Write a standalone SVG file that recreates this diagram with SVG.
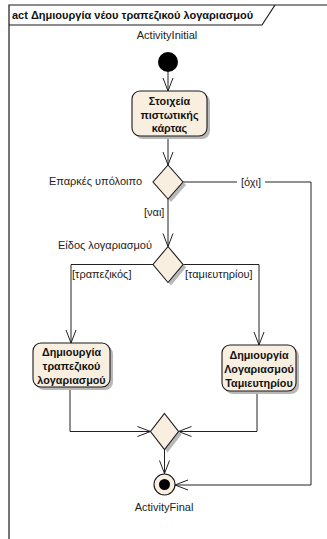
<svg xmlns="http://www.w3.org/2000/svg" width="327" height="539" viewBox="0 0 327 539">
  <style>
    .frame { fill: none; stroke: #1a1a1a; stroke-width: 1.2; }
    .node { fill: #F8EFE0; stroke: #1a1a1a; stroke-width: 1.1; }
    .shadow { fill: #b8b8b8; }
    .edge { fill: none; stroke: #222; stroke-width: 1; }
    .lbl { font-family: "Liberation Sans", Arial, sans-serif; font-size: 11px; fill: #222; }
    .act { font-family: "Liberation Sans", Arial, sans-serif; font-size: 10.8px; font-weight: bold; fill: #111; text-anchor: middle; }
    .title { font-family: "Liberation Sans", Arial, sans-serif; font-size: 11px; font-weight: bold; fill: #111; }
  </style>
  <defs>
    <marker id="open" markerUnits="userSpaceOnUse" markerWidth="16" markerHeight="14" viewBox="-14 -7 16 14" refX="0" refY="0" orient="auto">
      <path d="M-13,-5 L0,0 L-13,5" fill="none" stroke="#222" stroke-width="1"/>
    </marker>
  </defs>

  <rect width="327" height="539" fill="#ffffff"/>

  <!-- activity frame and header tab -->
  <g id="frame">
    <path class="frame" d="M9,545 L9,5 L335,5"/>
    <path class="frame" d="M9,25 L262,25 L275,5"/>
    <text class="title" x="12" y="19">act Δημιουργία νέου τραπεζικού λογαριασμού</text>
  </g>

  <!-- connectors -->
  <g id="edges">
    <path class="edge" d="M168,72 L168,91" marker-end="url(#open)"/>
    <path class="edge" d="M168,136 L168,165" marker-end="url(#open)"/>
    <path class="edge" d="M168,199 L168,246.5" marker-end="url(#open)"/>
    <path class="edge" d="M183,182 L311,182 L311,485 L175,485" marker-end="url(#open)"/>
    <path class="edge" d="M153,264.5 L71,264.5 L71,343" marker-end="url(#open)"/>
    <path class="edge" d="M183,264.5 L259,264.5 L259,345" marker-end="url(#open)"/>
    <path class="edge" d="M70,387 L70,431.5 L150.5,431.5" marker-end="url(#open)"/>
    <path class="edge" d="M257,391 L257,431.5 L178.5,431.5" marker-end="url(#open)"/>
    <path class="edge" d="M164.5,449.5 L164.5,473.5" marker-end="url(#open)"/>
    <rect x="237" y="175" width="28" height="13" fill="#ffffff"/>
    <text class="lbl" x="251" y="186" text-anchor="middle">[όχι]</text>
    <text class="lbl" x="144" y="216">[ναι]</text>
    <text class="lbl" x="72" y="278">[τραπεζικός]</text>
    <text class="lbl" x="185" y="278">[ταμιευτηρίου]</text>
  </g>

  <g id="initial">
    <circle cx="168" cy="62" r="10" fill="#000"/>
    <text class="lbl" x="167" y="39" text-anchor="middle">ActivityInitial</text>
  </g>

  <g id="card-details">
    <rect class="shadow" x="135" y="94" width="75" height="45" rx="8"/>
    <rect class="node" x="132" y="91" width="75" height="45" rx="8"/>
    <text class="act" x="169.5" y="105">Στοιχεία</text>
    <text class="act" x="169.5" y="118.5">πιστωτικής</text>
    <text class="act" x="169.5" y="132">κάρτας</text>
  </g>

  <g id="balance-decision">
    <path class="shadow" d="M171,168 L186,185 L171,202 L156,185 Z"/>
    <path class="node" d="M168,165 L183,182 L168,199 L153,182 Z"/>
    <text class="lbl" x="142" y="185" text-anchor="end">Επαρκές υπόλοιπο</text>
  </g>

  <g id="type-decision">
    <path class="shadow" d="M171,249.5 L186,267.5 L171,285.5 L156,267.5 Z"/>
    <path class="node" d="M168,246.5 L183,264.5 L168,282.5 L153,264.5 Z"/>
    <text class="lbl" x="152" y="249" text-anchor="end">Είδος λογαριασμού</text>
  </g>

  <g id="create-bank-account">
    <rect class="shadow" x="36" y="346" width="77" height="44" rx="8"/>
    <rect class="node" x="33" y="343" width="77" height="44" rx="8"/>
    <text class="act" x="71.5" y="355.5">Δημιουργία</text>
    <text class="act" x="71.5" y="369.5">τραπεζικού</text>
    <text class="act" x="71.5" y="383.5">λογαριασμού</text>
  </g>

  <g id="create-savings-account">
    <rect class="shadow" x="225" y="348" width="74" height="46" rx="8"/>
    <rect class="node" x="222" y="345" width="74" height="46" rx="8"/>
    <text class="act" x="259" y="358.5">Δημιουργία</text>
    <text class="act" x="259" y="372.5">Λογαριασμού</text>
    <text class="act" x="259" y="386.5">Ταμιευτηρίου</text>
  </g>

  <g id="merge">
    <path class="shadow" d="M167.5,416.5 L181.5,434.5 L167.5,452.5 L153.5,434.5 Z"/>
    <path class="node" d="M164.5,413.5 L178.5,431.5 L164.5,449.5 L150.5,431.5 Z"/>
  </g>

  <g id="final">
    <circle class="node" cx="164.5" cy="484.5" r="10.5"/>
    <circle cx="164.5" cy="484.5" r="5.5" fill="#000"/>
    <text class="lbl" x="164" y="511" text-anchor="middle">ActivityFinal</text>
  </g>
</svg>
